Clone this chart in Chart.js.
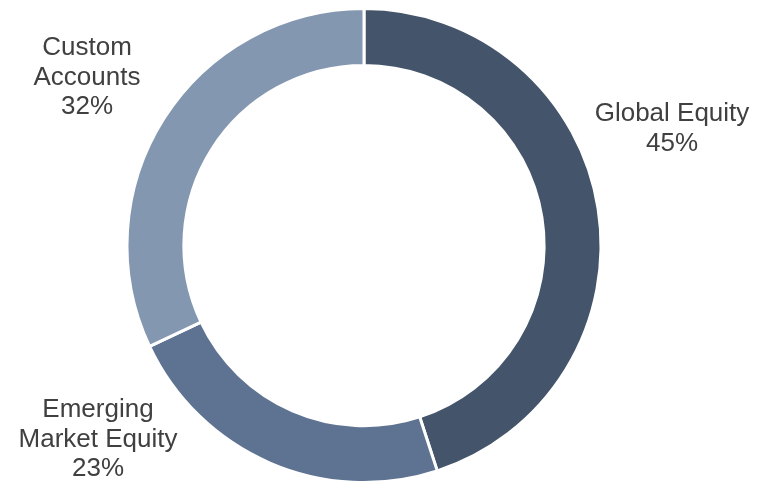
<!DOCTYPE html>
<html>
<head>
<meta charset="utf-8">
<script src="https://cdn.jsdelivr.net/npm/chart.js@4"></script>
<style>
  html, body { margin: 0; padding: 0; background: #fff; overflow: hidden; }
  #wrap { position: absolute; left: 0; top: 0; width: 767px; height: 484px; }
</style>
</head>
<body>
<div id="wrap"><canvas id="mycanvas" width="767" height="484"></canvas></div>
<script>
// chart data
var categories = ['Global Equity', 'Emerging Market Equity', 'Custom Accounts'];
var shares = [45, 23, 32];
var colours = ['#44546A', '#5E7391', '#8497B0'];

// label text lines + anchor (centre x, first baseline y)
var labelLines = [['Global Equity'], ['Emerging', 'Market Equity'], ['Custom', 'Accounts']];
var labelPos = [[672, 121], [98, 417], [87, 55]];

var labelPlugin = {
  id: 'sliceLabels',
  afterDraw: function(chart) {
    var ctx = chart.ctx;
    ctx.save();
    ctx.font = "26px 'Liberation Sans', Arial, sans-serif";
    ctx.fillStyle = '#404040';
    ctx.textAlign = 'center';
    ctx.textBaseline = 'alphabetic';
    for (var i = 0; i < categories.length; i++) {
      var lines = labelLines[i].concat([shares[i] + '%']);
      for (var j = 0; j < lines.length; j++) {
        ctx.fillText(lines[j], labelPos[i][0], labelPos[i][1] + j * 29.5);
      }
    }
    ctx.restore();
  }
};

var ctx = document.getElementById('mycanvas');
var pie = new Chart(ctx, {
  type: 'doughnut',
  data: {
    labels: categories,
    datasets: [{
      data: shares,
      backgroundColor: colours,
      borderColor: '#ffffff',
      borderWidth: 3
    }]
  },
  options: {
    responsive: false,
    animation: false,
    cutout: '76%',
    layout: { padding: { top: 7, right: 39, left: 0, bottom: 0 } },
    plugins: { legend: { display: false }, tooltip: { enabled: false } }
  },
  plugins: [labelPlugin]
});
</script>
</body>
</html>
